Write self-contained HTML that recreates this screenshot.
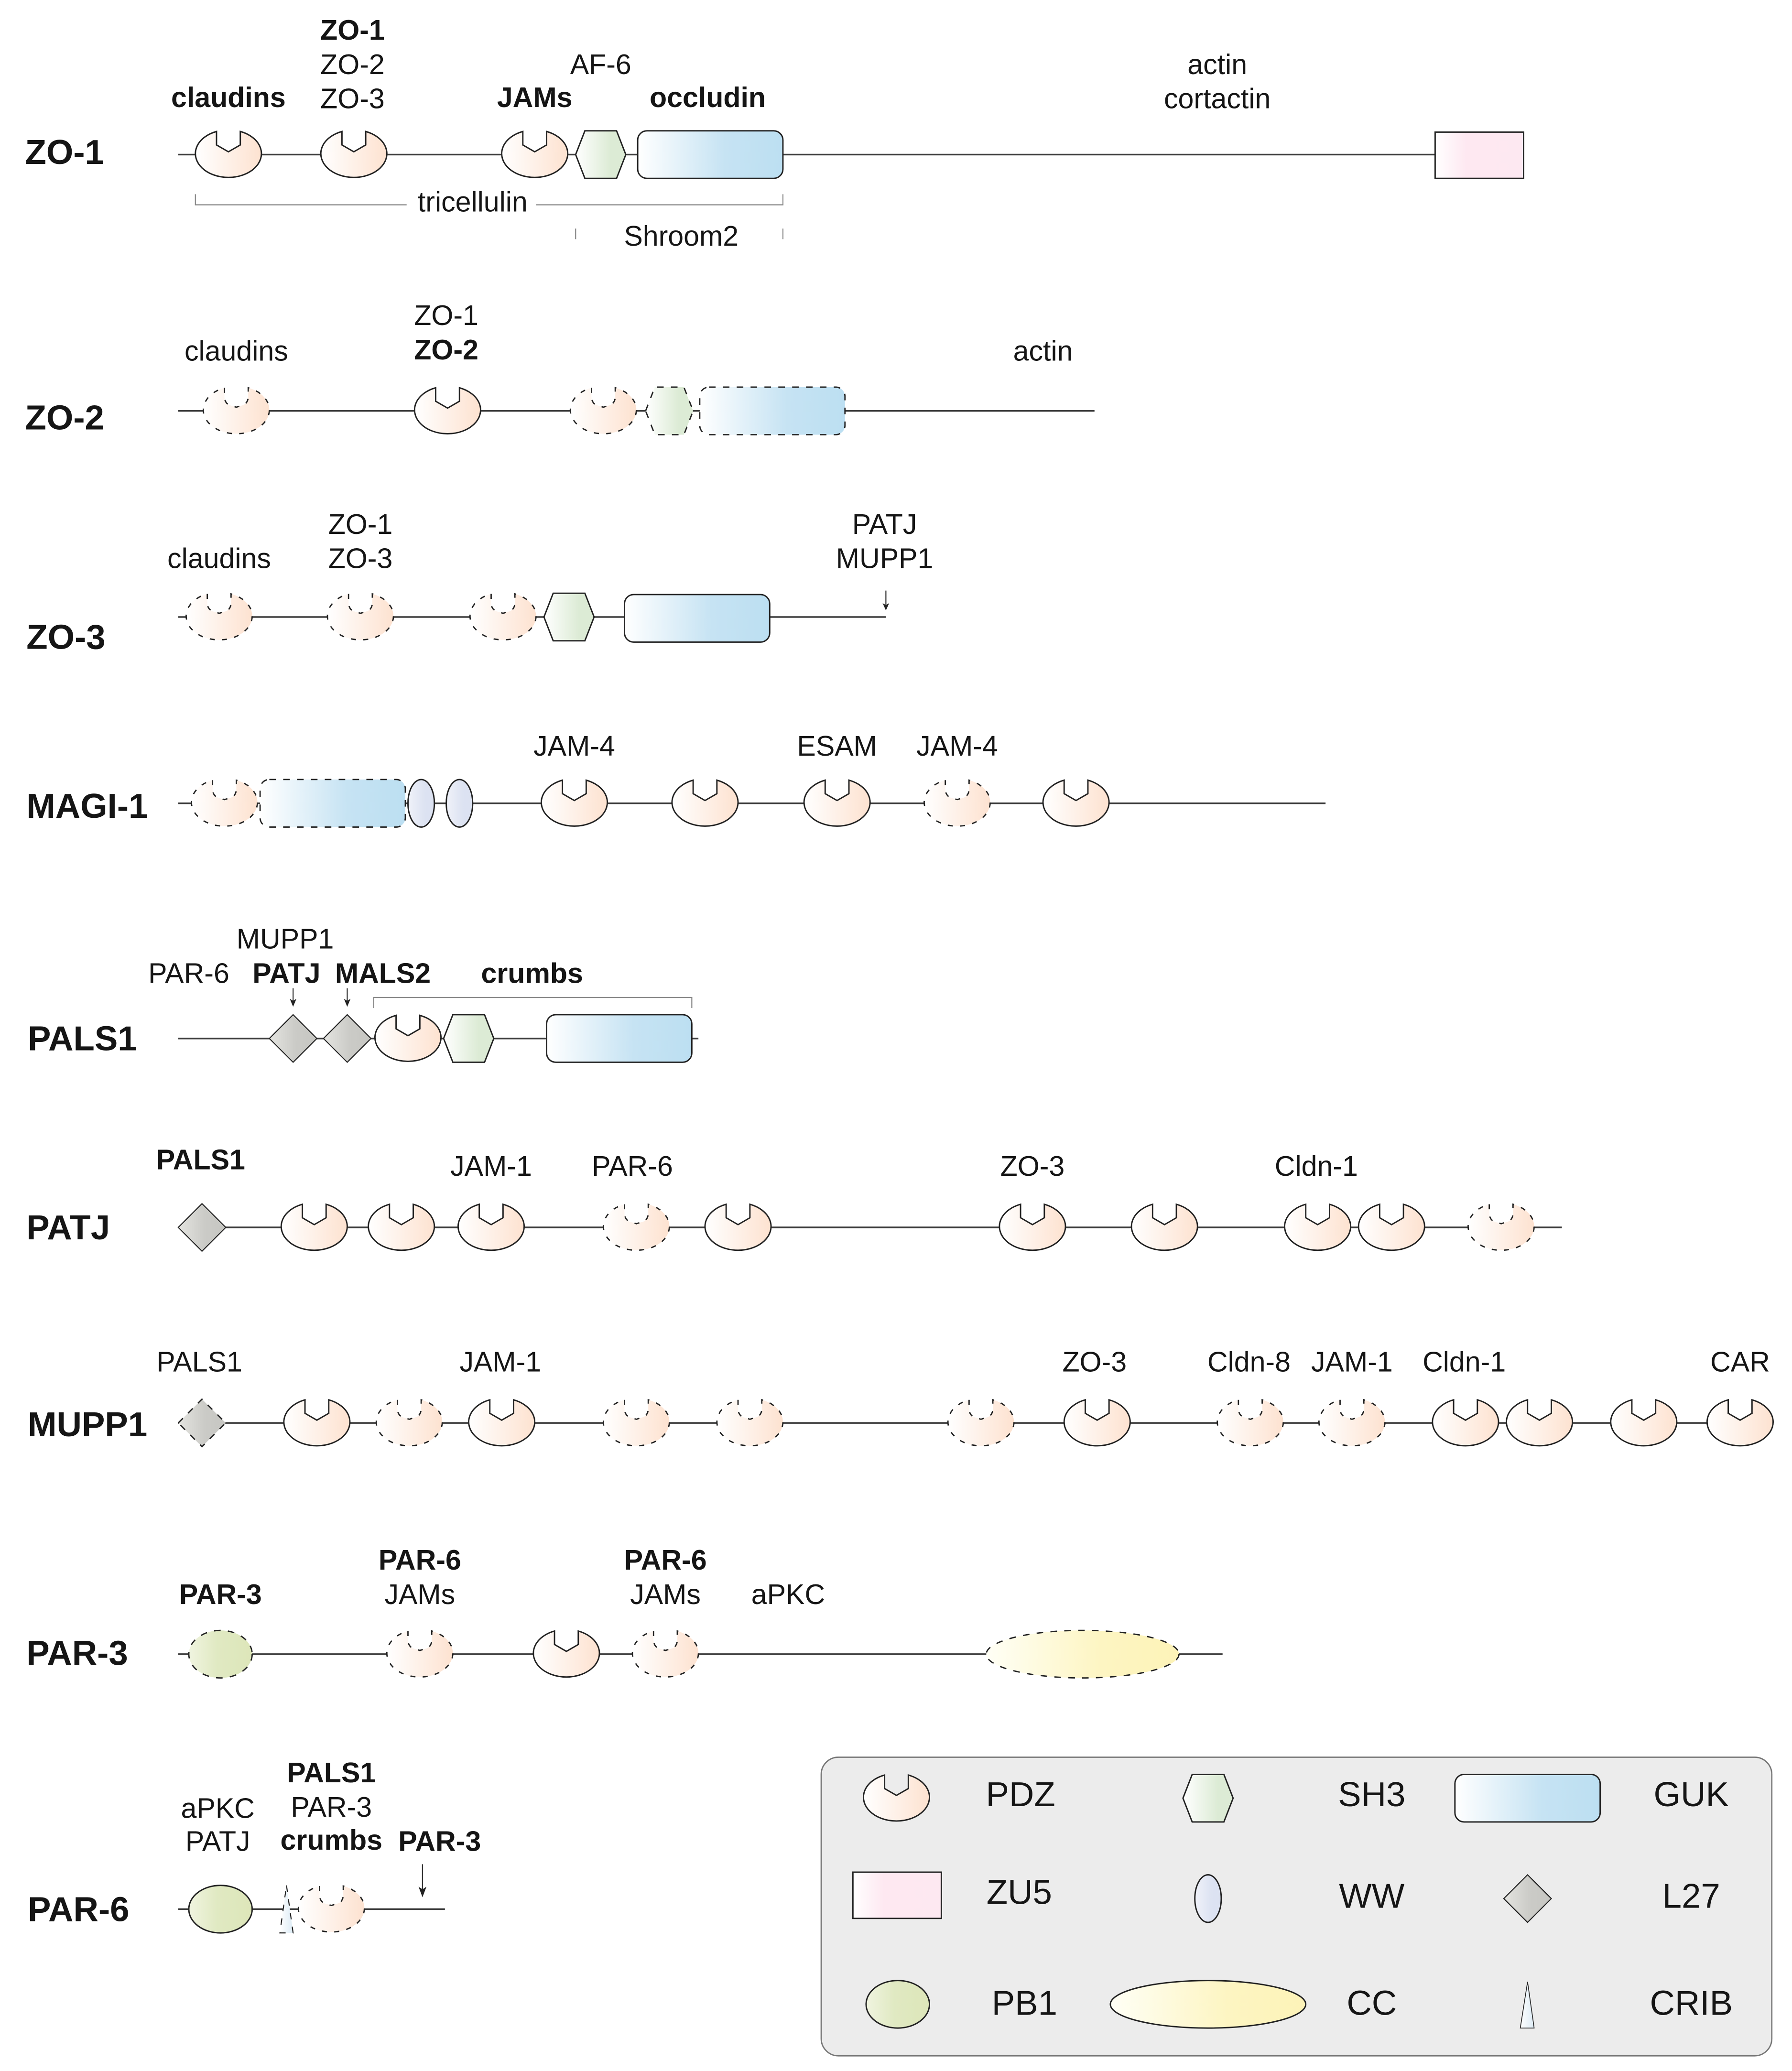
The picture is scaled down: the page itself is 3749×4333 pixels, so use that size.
<!DOCTYPE html>
<html><head><meta charset="utf-8"><style>
html,body{margin:0;padding:0;background:#fff}
svg{display:block}
text{font-family:"Liberation Sans",sans-serif;fill:#151515}
.t{font-size:21.4px;text-anchor:middle}
.b{font-size:21.4px;text-anchor:middle;font-weight:bold}
.m{font-size:26.3px;font-weight:bold}
.l{font-size:26.3px;text-anchor:middle}
.ln{stroke:#3c3c3c;stroke-width:1.25;fill:none}
.br{stroke:#888;stroke-width:.8;fill:none}
.s{stroke:#222;stroke-width:1.05}
.d{stroke:#222;stroke-width:1;stroke-dasharray:5 5.5}
.dp{stroke:#222;stroke-width:1;stroke-dasharray:3.8 5.5}
</style></head><body>
<svg xmlns="http://www.w3.org/2000/svg" width="3749" height="4333" viewBox="0 0 1357.3 1567.5" preserveAspectRatio="none">
<defs>
<linearGradient id="gp"><stop offset="0" stop-color="#fff"/><stop offset="1" stop-color="#fde2d0"/></linearGradient>
<linearGradient id="gs"><stop offset="0" stop-color="#fff"/><stop offset=".7" stop-color="#dcebd5"/><stop offset="1" stop-color="#dcebd5"/></linearGradient>
<linearGradient id="gg"><stop offset="0" stop-color="#fff"/><stop offset=".6" stop-color="#c6e3f3"/><stop offset="1" stop-color="#bcdff2"/></linearGradient>
<linearGradient id="gz"><stop offset="0" stop-color="#fff"/><stop offset=".35" stop-color="#fee8f1"/><stop offset="1" stop-color="#fde8f1"/></linearGradient>
<linearGradient id="gw"><stop offset="0" stop-color="#f0f2f9"/><stop offset=".6" stop-color="#dde3f2"/><stop offset="1" stop-color="#dbe1f1"/></linearGradient>
<linearGradient id="gl"><stop offset="0" stop-color="#e4e4e0"/><stop offset=".55" stop-color="#cbcbc7"/><stop offset="1" stop-color="#c6c6c2"/></linearGradient>
<linearGradient id="gb"><stop offset="0" stop-color="#f0f4e0"/><stop offset=".45" stop-color="#e0e9c2"/><stop offset="1" stop-color="#dde6b9"/></linearGradient>
<linearGradient id="gc"><stop offset="0" stop-color="#fffff6"/><stop offset=".6" stop-color="#fdf5c2"/><stop offset="1" stop-color="#fdf3b8"/></linearGradient>
<linearGradient id="gr"><stop offset="0" stop-color="#fff"/><stop offset="1" stop-color="#dcebf5"/></linearGradient>
<path id="pdz" class="s" fill="url(#gp)" d="M-9-17.500V-7.300L0-2.100 9-7.300V-17.500A25 18 0 1 1-9-17.500Z"/>
<path id="pdd" class="dp" fill="url(#gp)" d="M-9-17.500V-10Q-8.500-6-5.500-4.500L0-2.800 5.500-4.500Q8.500-6 9-10V-17.500A25 18 0 1 1-9-17.500Z"/>
<path id="sh3" class="s" fill="url(#gs)" d="M-19 0-12-18H12L19 0 12 18H-12Z"/>
<path id="shd" class="d" fill="url(#gs)" d="M-18 0-11-18H11L18 0 11 18H-11Z"/>
<rect id="guk" class="s" fill="url(#gg)" x="0" y="-18" width="110" height="36" rx="7"/>
<rect id="gud" class="d" fill="url(#gg)" x="0" y="-18" width="110" height="36" rx="7"/>
<ellipse id="ww" class="s" fill="url(#gw)" rx="10" ry="18"/>
<path id="l27" class="s" style="stroke-width:.8" fill="url(#gl)" d="M-18 0 0-18 18 0 0 18Z"/>
<path id="l2d" class="d" fill="url(#gl)" d="M-18 0 0-18 18 0 0 18Z"/>
<ellipse id="pb1" class="s" fill="url(#gb)" rx="24" ry="18"/>
<ellipse id="pbd" class="d" fill="url(#gb)" rx="24" ry="18"/>
</defs>
<rect width="1358" height="1569" fill="#fff"/>

<!-- ZO-1 -->
<path class="ln" d="M135 117H1087"/>
<use href="#pdz" x="173" y="117"/><use href="#pdz" x="268" y="117"/><use href="#pdz" x="405" y="117"/>
<use href="#sh3" x="455" y="117"/>
<use href="#guk" x="483" y="117"/>
<rect class="s" fill="url(#gz)" x="1087" y="100" width="67" height="35"/>
<path class="br" d="M148 147V155H308M406 155H593V147"/>
<path class="br" d="M436 173V181M593 173V181"/>
<text class="b" x="267" y="30">ZO-1</text>
<text class="t" x="267" y="56">ZO-2</text>
<text class="t" x="267" y="82">ZO-3</text>
<text class="b" x="173" y="81">claudins</text>
<text class="t" x="455" y="56">AF-6</text>
<text class="b" x="405" y="81">JAMs</text>
<text class="b" x="536" y="81">occludin</text>
<text class="t" x="922" y="56">actin</text>
<text class="t" x="922" y="82">cortactin</text>
<text class="t" x="358" y="160">tricellulin</text>
<text class="t" x="516" y="186">Shroom2</text>
<text class="m" x="19" y="124">ZO-1</text>

<!-- ZO-2 -->
<path class="ln" d="M135 311H829"/>
<use href="#pdd" x="179" y="311"/><use href="#pdz" x="339" y="311"/><use href="#pdd" x="457" y="311"/>
<use href="#shd" x="507" y="311"/>
<use href="#gud" x="530" y="311"/>
<text class="t" x="179" y="273">claudins</text>
<text class="t" x="338" y="246">ZO-1</text>
<text class="b" x="338" y="272">ZO-2</text>
<text class="t" x="790" y="273">actin</text>
<text class="m" x="19" y="325">ZO-2</text>

<!-- ZO-3 -->
<path class="ln" d="M135 467H671"/>
<use href="#pdd" x="166" y="467"/><use href="#pdd" x="273" y="467"/><use href="#pdd" x="381" y="467"/>
<use href="#sh3" x="431" y="467"/>
<use href="#guk" x="473" y="468"/>
<path class="br" style="stroke:#333" d="M671 447V460"/><path fill="#222" d="M668.5 456.500 671 462 673.500 456.500 671 458Z"/>
<text class="t" x="166" y="430">claudins</text>
<text class="t" x="273" y="404">ZO-1</text>
<text class="t" x="273" y="430">ZO-3</text>
<text class="t" x="670" y="404">PATJ</text>
<text class="t" x="670" y="430">MUPP1</text>
<text class="m" x="20" y="491">ZO-3</text>

<!-- MAGI-1 -->
<path class="ln" d="M135 608H1004"/>
<use href="#pdd" x="170" y="608"/>
<use href="#gud" x="197" y="608"/>
<use href="#ww" x="319" y="608"/><use href="#ww" x="348" y="608"/>
<use href="#pdz" x="435" y="608"/><use href="#pdz" x="534" y="608"/><use href="#pdz" x="634" y="608"/>
<use href="#pdd" x="725" y="608"/><use href="#pdz" x="815" y="608"/>
<text class="t" x="435" y="572">JAM-4</text>
<text class="t" x="634" y="572">ESAM</text>
<text class="t" x="725" y="572">JAM-4</text>
<text class="m" x="20" y="619">MAGI-1</text>

<!-- PALS1 -->
<path class="ln" d="M135 786H529"/>
<use href="#l27" x="222" y="786"/><use href="#l27" x="263" y="786"/>
<use href="#pdz" x="309" y="786"/>
<use href="#sh3" x="355" y="786"/>
<use href="#guk" x="414" y="786"/>
<path class="br" d="M283 763V755H524V763"/>
<path class="br" style="stroke:#333" d="M222 748V760M263 748V760"/>
<path fill="#222" d="M219.500 756 222 762 224.500 756 222 757.500ZM260.500 756 263 762 265.500 756 263 757.500Z"/>
<text class="t" x="216" y="718">MUPP1</text>
<text class="t" x="143" y="744">PAR-6</text>
<text class="b" x="217" y="744">PATJ</text>
<text class="b" x="290" y="744">MALS2</text>
<text class="b" x="403" y="744">crumbs</text>
<text class="m" x="21" y="795">PALS1</text>

<!-- PATJ -->
<path class="ln" d="M135 929H1183"/>
<use href="#l27" x="153" y="929"/>
<use href="#pdz" x="238" y="929"/><use href="#pdz" x="304" y="929"/><use href="#pdz" x="372" y="929"/>
<use href="#pdd" x="482" y="929"/><use href="#pdz" x="559" y="929"/><use href="#pdz" x="782" y="929"/>
<use href="#pdz" x="882" y="929"/><use href="#pdz" x="998" y="929"/><use href="#pdz" x="1054" y="929"/>
<use href="#pdd" x="1137" y="929"/>
<text class="b" x="152" y="885">PALS1</text>
<text class="t" x="372" y="890">JAM-1</text>
<text class="t" x="479" y="890">PAR-6</text>
<text class="t" x="782" y="890">ZO-3</text>
<text class="t" x="997" y="890">Cldn-1</text>
<text class="m" x="20" y="938">PATJ</text>

<!-- MUPP1 -->
<path class="ln" d="M135 1077H1343"/>
<use href="#l2d" x="153" y="1077"/>
<use href="#pdz" x="240" y="1077"/><use href="#pdd" x="310" y="1077"/><use href="#pdz" x="380" y="1077"/>
<use href="#pdd" x="482" y="1077"/><use href="#pdd" x="568" y="1077"/><use href="#pdd" x="743" y="1077"/>
<use href="#pdz" x="831" y="1077"/><use href="#pdd" x="947" y="1077"/><use href="#pdd" x="1024" y="1077"/>
<use href="#pdz" x="1110" y="1077"/><use href="#pdz" x="1166" y="1077"/><use href="#pdz" x="1245" y="1077"/><use href="#pdz" x="1318" y="1077"/>
<text class="t" x="151" y="1038">PALS1</text>
<text class="t" x="379" y="1038">JAM-1</text>
<text class="t" x="829" y="1038">ZO-3</text>
<text class="t" x="946" y="1038">Cldn-8</text>
<text class="t" x="1024" y="1038">JAM-1</text>
<text class="t" x="1109" y="1038">Cldn-1</text>
<text class="t" x="1318" y="1038">CAR</text>
<text class="m" x="21" y="1087">MUPP1</text>

<!-- PAR-3 -->
<path class="ln" d="M135 1252H926"/>
<use href="#pbd" x="167" y="1252"/>
<use href="#pdd" x="318" y="1252"/><use href="#pdz" x="429" y="1252"/><use href="#pdd" x="504" y="1252"/>
<ellipse class="d" fill="url(#gc)" cx="820" cy="1252" rx="73" ry="18"/>
<text class="b" x="167" y="1214">PAR-3</text>
<text class="b" x="318" y="1188">PAR-6</text>
<text class="t" x="318" y="1214">JAMs</text>
<text class="b" x="504" y="1188">PAR-6</text>
<text class="t" x="504" y="1214">JAMs</text>
<text class="t" x="597" y="1214">aPKC</text>
<text class="m" x="20" y="1260">PAR-3</text>

<!-- PAR-6 -->
<path class="ln" d="M135 1445H337"/>
<use href="#pb1" x="167" y="1445"/>
<path class="d" style="stroke-width:.8" fill="url(#gr)" d="M217 1427 222 1463H212Z"/>
<use href="#pdd" x="251" y="1445"/>
<path class="br" style="stroke:#333" d="M320 1411V1433"/><path fill="#222" d="M317 1428 320 1436 323 1428 320 1430Z"/>
<text class="b" x="251" y="1349">PALS1</text>
<text class="t" x="251" y="1375">PAR-3</text>
<text class="b" x="251" y="1400">crumbs</text>
<text class="t" x="165" y="1376">aPKC</text>
<text class="t" x="165" y="1401">PATJ</text>
<text class="b" x="333" y="1401">PAR-3</text>
<text class="m" x="21" y="1454">PAR-6</text>

<!-- Legend -->
<rect x="622" y="1330" width="720" height="226" rx="13" fill="#ececec" stroke="#777" stroke-width="1"/>
<use href="#pdz" x="679" y="1361"/>
<use href="#sh3" x="915" y="1361"/>
<use href="#guk" x="1102" y="1361"/>
<text class="l" x="773" y="1367">PDZ</text>
<text class="l" x="1039" y="1367">SH3</text>
<text class="l" x="1281" y="1367">GUK</text>
<rect class="s" fill="url(#gz)" x="646" y="1417" width="67" height="35"/>
<use href="#ww" x="915" y="1437"/>
<use href="#l27" x="1157" y="1437"/>
<text class="l" x="772" y="1441">ZU5</text>
<text class="l" x="1039" y="1444">WW</text>
<text class="l" x="1281" y="1444">L27</text>
<use href="#pb1" x="680" y="1517"/>
<ellipse class="s" fill="url(#gc)" cx="915" cy="1517" rx="74" ry="18"/>
<path class="s" style="stroke-width:.6" fill="url(#gr)" d="M1157 1500 1162 1535H1151.500Z"/>
<text class="l" x="776" y="1525">PB1</text>
<text class="l" x="1039" y="1525">CC</text>
<text class="l" x="1281" y="1525">CRIB</text>
</svg>
</body></html>
